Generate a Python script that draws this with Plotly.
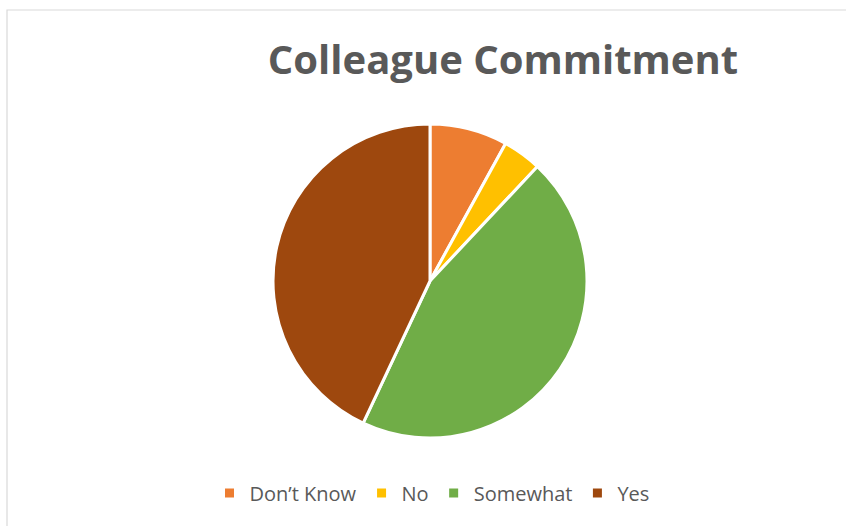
import plotly.graph_objects as go

# Survey responses (percent of colleagues)
categories = ["Don\u2019t Know", "No", "Somewhat", "Yes"]
shares = [8, 4, 45, 43]
colors = ["#ED7D31", "#FFC000", "#70AD47", "#9E480E"]

W, H = 846, 526
cx, cy, r = 430, 281, 157

fig = go.Figure(
    go.Pie(
        labels=categories,
        values=shares,
        sort=False,
        direction="clockwise",
        rotation=0,
        marker=dict(colors=colors, line=dict(color="white", width=3)),
        textinfo="none",
        hoverinfo="label+percent",
        domain=dict(
            x=[(cx - r) / W, (cx + r) / W],
            y=[1 - (cy + r) / H, 1 - (cy - r) / H],
        ),
    )
)

fig.update_layout(
    width=W,
    height=H,
    margin=dict(l=0, r=0, t=0, b=0),
    paper_bgcolor="white",
    plot_bgcolor="white",
    title=dict(
        text="<b>Colleague Commitment</b>",
        font=dict(family="Open Sans", size=40, color="#595959"),
        x=503 / W,
        xanchor="center",
        y=1 - 60 / H,
        yanchor="middle",
    ),
    legend=dict(
        orientation="h",
        x=432 / W,
        xanchor="center",
        y=1 - 493 / H,
        yanchor="middle",
        font=dict(family="Open Sans", size=20, color="#595959"),
        itemwidth=30,
        traceorder="normal",
    ),
    shapes=[
        dict(
            type="rect",
            xref="paper",
            yref="paper",
            x0=7 / W,
            x1=1.05,
            y0=-0.05,
            y1=1 - 10 / H,
            line=dict(color="#D9D9D9", width=1.2),
            fillcolor="rgba(0,0,0,0)",
        )
    ],
)

fig.write_html("out.html")
